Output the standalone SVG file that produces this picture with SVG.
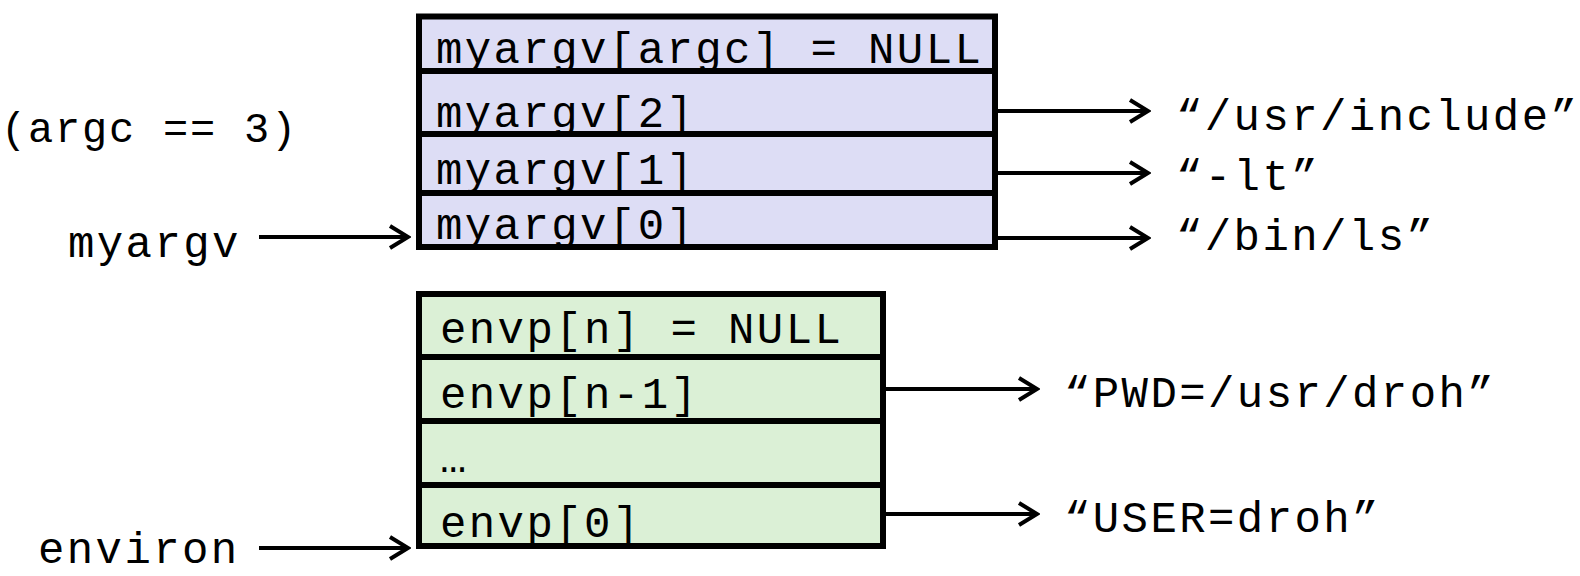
<svg xmlns="http://www.w3.org/2000/svg" width="1580" height="576" viewBox="0 0 1580 576">
  <style>
    text { font-family: "Liberation Mono", "Courier New", monospace; font-size: 44px; letter-spacing: 2.4px; fill: #000; }
    .small { font-size: 42px; letter-spacing: 1.8px; }
    .argv { fill: #DDDDF5; stroke: #000; stroke-width: 6; }
    .env { fill: #DBF0D6; stroke: #000; stroke-width: 6; }
    .div { stroke: #000; stroke-width: 6; }
    .conn { stroke: #000; stroke-width: 4; fill: none; marker-end: url(#arrow); }
  </style>
  <defs>
    <marker id="arrow" markerUnits="userSpaceOnUse" viewBox="0 0 24 26" refX="21" refY="13" markerWidth="24" markerHeight="26" orient="auto">
      <path d="M3,2 L21,13 L3,24" fill="none" stroke="#000" stroke-width="4" stroke-linejoin="miter"/>
    </marker>
  </defs>

  <g id="argc-label">
    <text class="small" x="1" y="142">(argc == 3)</text>
  </g>
  <g id="myargv-label">
    <text x="68" y="257">myargv</text>
  </g>
  <g id="environ-label">
    <text x="38" y="563">environ</text>
  </g>

  <g id="myargv-array">
    <rect class="argv" x="419" y="16.5" width="576" height="230.5"/>
    <line class="div" x1="419" y1="71" x2="995" y2="71"/>
    <line class="div" x1="419" y1="134" x2="995" y2="134"/>
    <line class="div" x1="419" y1="193" x2="995" y2="193"/>
    <text x="436" y="63">myargv[argc] = NULL</text>
    <text x="436" y="127">myargv[2]</text>
    <text x="436" y="184">myargv[1]</text>
    <text x="436" y="239">myargv[0]</text>
  </g>

  <g id="envp-array">
    <rect class="env" x="419" y="294" width="464" height="252"/>
    <line class="div" x1="419" y1="357" x2="883" y2="357"/>
    <line class="div" x1="419" y1="421" x2="883" y2="421"/>
    <line class="div" x1="419" y1="485" x2="883" y2="485"/>
    <text x="440" y="343">envp[n] = NULL</text>
    <text x="440" y="408">envp[n-1]</text>
    <text x="440" y="472">…</text>
    <text x="440" y="537">envp[0]</text>
  </g>

  <g id="str-include"><text x="1176" y="130">“/usr/include”</text></g>
  <g id="str-lt"><text x="1176" y="190">“-lt”</text></g>
  <g id="str-ls"><text x="1176" y="250">“/bin/ls”</text></g>
  <g id="str-pwd"><text x="1064" y="407">“PWD=/usr/droh”</text></g>
  <g id="str-user"><text x="1064" y="532">“USER=droh”</text></g>

  <g id="connectors">
    <line class="conn" x1="259" y1="237" x2="408" y2="237"/>
    <line class="conn" x1="259" y1="548" x2="408" y2="548"/>
    <line class="conn" x1="995" y1="111" x2="1148" y2="111"/>
    <line class="conn" x1="995" y1="173" x2="1148" y2="173"/>
    <line class="conn" x1="995" y1="238" x2="1148" y2="238"/>
    <line class="conn" x1="883" y1="389" x2="1037" y2="389"/>
    <line class="conn" x1="883" y1="514" x2="1037" y2="514"/>
  </g>
</svg>
